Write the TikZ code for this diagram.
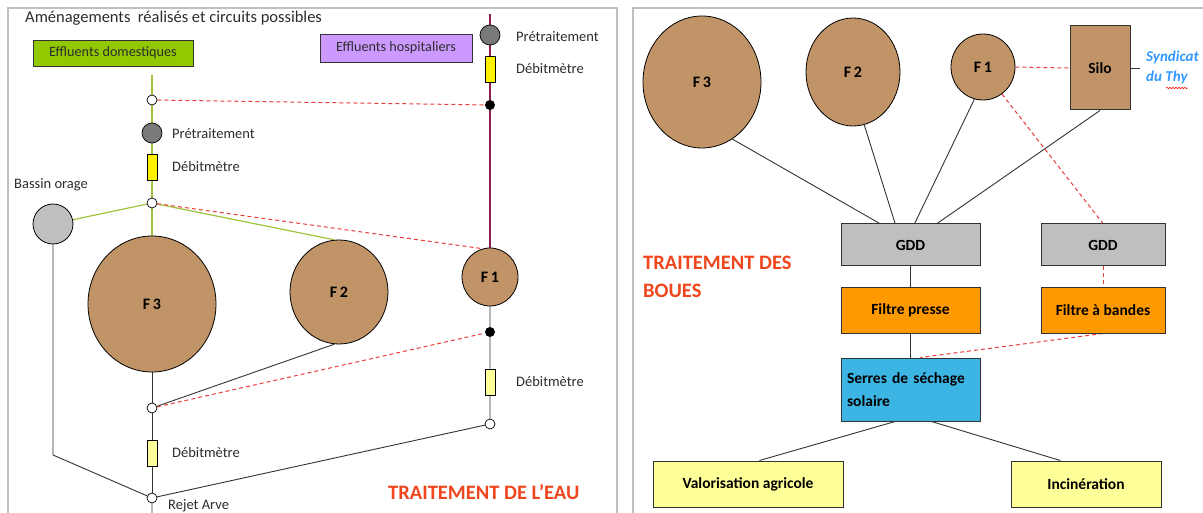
\documentclass[tikz,border=0pt]{standalone}
\usepackage{fontspec}
\setmainfont{Carlito}
\usetikzlibrary{shapes.geometric,backgrounds,calc,decorations.pathmorphing}
\definecolor{brownf}{RGB}{193,148,104}
\definecolor{greenl}{RGB}{160,196,60}
\definecolor{greenbox}{RGB}{146,200,0}
\definecolor{lav}{RGB}{204,153,255}
\definecolor{maroon}{RGB}{140,30,80}
\definecolor{redd}{RGB}{235,60,60}
\definecolor{titred}{RGB}{240,70,30}
\definecolor{paley}{RGB}{255,255,153}
\definecolor{grayb}{RGB}{191,191,191}
\definecolor{orangeb}{RGB}{255,153,0}
\definecolor{blueb}{RGB}{60,180,228}
\definecolor{bluet}{RGB}{51,153,255}
\definecolor{txt}{RGB}{45,45,45}
\tikzset{
  lbl/.style={anchor=west,text=txt,font=\fontsize{14.5}{16}\selectfont,inner sep=0pt},
  openc/.style={circle,draw=black,fill=white,minimum size=10pt,inner sep=0pt,line width=0.7pt},
  dotc/.style={circle,fill=black,minimum size=10pt,inner sep=0pt},
  prec/.style={circle,draw=black,fill=gray!95!black,minimum size=20pt,inner sep=0pt,line width=0.7pt},
  debr/.style={rectangle,draw=black,fill=yellow,minimum width=10pt,minimum height=26pt,inner sep=0pt,line width=0.7pt},
  debp/.style={debr,fill=paley},
  brownc/.style={ellipse,draw=black,fill=brownf,inner sep=0pt,line width=0.8pt,font=\bfseries\fontsize{16}{18}\selectfont},
  boxr/.style={rectangle,draw=black!80,inner sep=0pt,line width=1pt,font=\bfseries\fontsize{15.5}{18}\selectfont},
  redash/.style={draw=redd,dashed,dash pattern=on 4pt off 3pt,line width=1pt},
  blk/.style={draw=black!80,line width=0.9pt},
  grn/.style={draw=greenl,line width=1.2pt},
  title/.style={text=titred,font=\bfseries\fontsize{20.5}{25}\selectfont,inner sep=0pt}
}
\begin{document}
\begin{tikzpicture}[x=1pt,y=-1pt]
\useasboundingbox (0,0) rectangle (1203,513);
\clip (0,0) rectangle (1203,513);
% ===== LEFT PANEL =====
\node[lbl,font=\fontsize{16.5}{18}\selectfont] (ttl) at (25,18) {Aménagements~ réalisés et circuits possibles};
\node[rectangle,draw=black!80,fill=greenbox,minimum width=160pt,minimum height=26pt,inner sep=0pt,font=\fontsize{14.2}{16}\selectfont,text=txt] (edom) at (113,53) {Effluents domestiques};
\node[rectangle,draw=black!80,fill=lav,minimum width=152pt,minimum height=28pt,inner sep=0pt,font=\fontsize{14.2}{16}\selectfont,text=txt] (ehos) at (396,48) {Effluents hospitaliers};
\coordinate (d0) at (152,75);
\coordinate (h0) at (490,14);
\node[openc] (o1) at (152,100) {};
\node[prec] (pre1) at (152,133) {};
\node[lbl] (pre1l) at (172,134) {Prétraitement};
\node[debr] (deb1) at (152,167) {};
\node[lbl] (deb1l) at (172,167) {Débitmètre};
\node[openc] (j1) at (152,203) {};
\node[lbl] (basl) at (14,185) {Bassin orage};
\node[circle,draw=black,fill=grayb,minimum width=40pt,inner sep=0pt,line width=0.8pt] (bas) at (53,224) {};
\node[prec] (pre2) at (490,35) {};
\node[lbl] (pre2l) at (516,37) {Prétraitement};
\node[debr] (deb2) at (490,69) {};
\node[lbl] (deb2l) at (516,69) {Débitmètre};
\node[dotc] (dot1) at (490,105) {};
\node[brownc,minimum width=128pt,minimum height=136pt] (F3) at (152,304) {F\,3};
\node[brownc,minimum width=98pt,minimum height=104pt] (F2) at (339,292) {F\,2};
\node[brownc,minimum width=56pt,minimum height=58pt] (F1) at (490,277) {F\,1};
\node[dotc] (dot2) at (490,332) {};
\node[debp] (deb4) at (490,382) {};
\node[lbl] (deb4l) at (516,382) {Débitmètre};
\node[openc] (o3) at (490,424) {};
\node[openc] (o2) at (152,408) {};
\node[debp] (deb3) at (152,453) {};
\node[lbl] (deb3l) at (172,453) {Débitmètre};
\node[openc] (rej) at (152,498) {};
\node[lbl] (rejl) at (168,506) {Rejet Arve};
\coordinate (bc) at (53,455);
\coordinate (rb) at (152,520);
\node[title,anchor=west] (te) at (388,492) {TRAITEMENT DE L’EAU};
% ===== RIGHT PANEL =====
\node[brownc,minimum width=118pt,minimum height=132pt] (rF3) at (702,82) {F\,3};
\node[brownc,minimum width=94pt,minimum height=108pt] (rF2) at (853,72) {F\,2};
\node[brownc,minimum width=64pt,minimum height=66pt] (rF1) at (983,67) {F\,1};
\node[boxr,fill=brownf,minimum width=60pt,minimum height=84pt] (silo) at (1100,68) {Silo};
\coordinate (sy) at (1140,68);
\node[anchor=west,inner sep=0pt,text=bluet,font=\bfseries\itshape\fontsize{15}{20}\selectfont,align=left] (synd) at (1146,67) {Syndicat\\du Thy};
\node[boxr,fill=grayb,minimum width=139pt,minimum height=42pt] (g1) at (910.5,245) {GDD};
\node[boxr,fill=grayb,minimum width=124pt,minimum height=42pt] (g2) at (1103,245) {GDD};
\node[title,anchor=west,align=left,font=\bfseries\fontsize{20.5}{28}\selectfont] (tb) at (643,277) {TRAITEMENT DES\\BOUES};
\node[boxr,fill=orangeb,minimum width=139pt,minimum height=45pt] (fp) at (910.5,310.5) {Filtre presse};
\node[boxr,fill=orangeb,minimum width=124pt,minimum height=45pt] (fb) at (1103,310.5) {Filtre à bandes};
\node[boxr,fill=blueb,minimum width=139pt,minimum height=63pt,align=left,text width=127pt,inner xsep=6pt,font=\bfseries\fontsize{15.5}{23}\selectfont] (ss) at (910.5,389.5) {Serres de séchage\\solaire};
\node[boxr,fill=paley,minimum width=190pt,minimum height=46pt] (va) at (748,484) {Valorisation agricole};
\node[boxr,fill=paley,minimum width=150pt,minimum height=46pt] (inc) at (1086,484) {Incinération};
\begin{scope}[on background layer]
  \fill[white] (0,0) rectangle (1203,513);
  \draw[grayb,line width=2pt] (8,8) rectangle (617,530);
  \draw[grayb,line width=2pt] (633,8) rectangle (1220,530);
  % left
  \draw[grn] (d0) -- (o1) -- (pre1) -- (deb1) -- (j1) -- (F3.north);
  \draw[grn] (j1) -- (bas);
  \draw[grn] (j1) -- (F2.95);
  \draw[draw=maroon,line width=1.2pt] (h0) -- (pre2) -- (deb2) -- (dot1) -- (F1.north);
  \draw[redash] (o1) -- (dot1);
  \draw[redash] (j1) -- (F1.105);
  \draw[blk] (bas.south) -- (bc) -- (rej) -- (rb);
  \draw[blk] (F3.south) -- (o2) -- (deb3) -- (rej);
  \draw[blk] (F2.265) -- (o2);
  \draw[blk] (F1.south) -- (dot2) -- (deb4) -- (o3) -- (rej);
  \draw[redash] (o2) -- (dot2);
  % right
  \draw[blk] (rF3.-62) -- ($(g1.north west)!0.28!(g1.north east)$);
  \draw[blk] (rF2.-78) -- ($(g1.north west)!0.39!(g1.north east)$);
  \draw[blk] (rF1.-105) -- ($(g1.north west)!0.53!(g1.north east)$);
  \draw[blk] ($(silo.south west)!0.5!(silo.south east)$) -- ($(g1.north west)!0.69!(g1.north east)$);
  \draw[redash] (rF1.-55) -- ($(g2.north west)!0.5!(g2.north east)$);
  \draw[redash] (rF1.east) -- (silo.west);
  \draw[blk] (silo.east) -- (sy);
  \draw[blk] (g1.south) -- (fp.north);
  \draw[redash] (g2.south) -- (fb.north);
  \draw[blk] (fp.south) -- (ss.north);
  \draw[redash] (fb.south) -- ($(ss.north west)!0.57!(ss.north east)$);
  \draw[blk] ($(ss.south west)!0.39!(ss.south east)$) -- ($(va.north west)!0.56!(va.north east)$);
  \draw[blk] ($(ss.south west)!0.65!(ss.south east)$) -- ($(inc.north west)!0.33!(inc.north east)$);
\end{scope}
\draw[red,line width=0.5pt,decorate,decoration={snake,amplitude=0.8pt,segment length=3pt}] (1166,88) -- (1188,88);
\end{tikzpicture}
\end{document}
